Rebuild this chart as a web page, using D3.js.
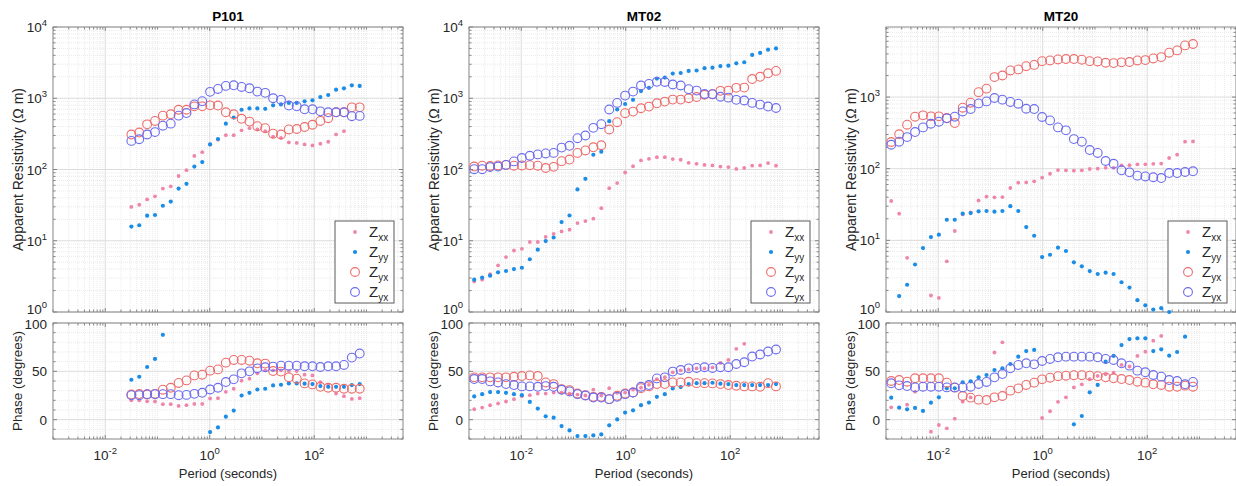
<!DOCTYPE html>
<html>
<head>
<meta charset="utf-8">
<script src="https://cdnjs.cloudflare.com/ajax/libs/d3/7.8.5/d3.min.js"></script>
<style>
  body { margin: 0; background: #fff; }
  svg { display: block; font-family: "Liberation Sans", Arial, sans-serif; }
</style>
</head>
<body>
<div id="chart"></div>
<script>
// Periods (seconds) shared by MT02 and MT20
const periodsMT = [0.001259, 0.001786, 0.002535, 0.003597, 0.005105, 0.007244, 0.01028, 0.01459, 0.0207,
  0.02938, 0.04169, 0.05916, 0.08395, 0.1191, 0.169, 0.2399, 0.3404, 0.4831, 0.6855, 0.9727,
  1.38, 1.959, 2.78, 3.945, 5.598, 7.943, 11.27, 16.0, 22.7, 32.21, 45.71, 64.86, 92.04,
  130.6, 185.4, 263.0, 373.3, 529.7, 751.6];

// Periods (seconds) for P101
const periodsP101 = [0.03162, 0.04474, 0.0633, 0.08955, 0.1267, 0.1793, 0.2536, 0.3588, 0.5077, 0.7183,
  1.016, 1.438, 2.034, 2.878, 4.072, 5.761, 8.152, 11.53, 16.32, 23.09, 32.66, 46.21, 65.38, 92.5,
  130.9, 185.2, 261.9, 370.6, 524.4, 741.9];

// P101 apparent resistivity (ohm m)
const p101RhoXX = [29.8, 32, 38, 42, 54, 58, 81, 98, 155, 175, 225, 262, 303, 303, 355, 380, 365, 345, 290, 277,
  240, 236, 225, 218, 230, 245, 311, 345, null, null];
const p101RhoYY = [15.8, 16.5, 22.5, 23, 31, 35.5, 54, 63, 110, 127, 225, 268, 440, 535, 690, 720, 720, 710, 795, 820,
  860, 860, 905, 935, 1040, 1110, 1320, 1380, 1520, 1490];
const p101RhoYX = [310, 330, 430, 480, 570, 595, 690, 690, 770, 770, 795, 790, 635, 595, 515, 470, 405, 380, 318, 310,
  365, 370, 395, 425, 480, 525, 635, 635, 745, 745];
const p101RhoXY = [252, 266, 310, 335, 412, 440, 570, 620, 820, 910, 1230, 1350, 1490, 1520, 1440, 1380, 1240, 1190, 1000, 950,
  790, 770, 700, 700, 655, 635, 635, 635, 560, 565];
// P101 phase (degrees)
const p101PhXX = [20, 20, 19, 18.8, 16, 16, 14.2, 15, 16.3, 16.3, 21.9, 22.2, 28.8, 32, 40.3, 42.4, 47.9, 51, 51, 51,
  50.3, 50.3, 46.5, 45.8, 38.9, 36, 27, 24.3, 21.5, 22.2];
const p101PhYY = [41.3, 44.4, 54.5, 62.8, 87.8, null, null, null, null, null, -12.8, -8, 3.1, 9.4, 25, 27.8, 31.2, 32, 35.4, 36.1,
  37.5, 37.5, 37.2, 36.8, 34.7, 34, 34, 34, 35.8, 36.8];
const p101PhYX = [26, 26.5, 26, 26.7, 31, 33, 38, 40.6, 45.8, 46.5, 50.7, 52, 59, 61.8, 61.8, 61, 58.3, 58, 50.3, 49.7,
  43.8, 42.4, 37.5, 36.5, 34, 33, 33, 32, 32, 32];
const p101PhXY = [25.3, 25.3, 26.4, 26.4, 26.4, 26.4, 25.3, 25.6, 26.7, 27.8, 31.2, 33, 38.9, 41.7, 47.9, 50, 53.1, 54.2, 54.9, 55.9,
  55.9, 55.9, 55.2, 55.2, 54.5, 55.2, 55.2, 56.6, 64.2, 68.4];

// MT02 apparent resistivity
const mt02RhoXX = [2.69, 2.84, 3.4, 4.5, 5.9, 7.3, 7.7, 9.6, 9.6, 11.3, 12.5, 13.5, 14.3, 17.7, 18.9, 20.4, 28.7, 54.7, 64.4, 90.8,
  111, 134, 141, 149, 149, 140, 137, 124, 120, 116, 114, 110, 108, 102, 105, 113, 114, 123, 113];
const mt02RhoYY = [2.84, 3.03, 3.23, 3.6, 3.76, 4.0, 4.18, 5.5, 7.5, 9.9, 11.1, 18.3, 22.6, 52.5, 74, 161, 178, 476, 695, 830,
  950, 1260, 1400, 1890, 1950, 2220, 2260, 2420, 2450, 2640, 2690, 2830, 2870, 3090, 3200, 4050, 4330, 4800, 5000];
const mt02RhoYX = [110, 113, 112, 114, 116, 113, 114, 115, 113, 105, 109, 131, 138, 171, 185, 205, 219, 364, 461, 617,
  650, 724, 764, 850, 898, 957, 957, 1000, 1040, 1120, 1140, 1270, 1280, 1400, 1410, 1860, 2000, 2240, 2420];
const mt02RhoXY = [101, 101, 108, 110, 116, 130, 145, 156, 163, 168, 171, 203, 215, 275, 300, 384, 432, 695, 860, 1090,
  1240, 1510, 1590, 1700, 1690, 1560, 1510, 1340, 1280, 1150, 1140, 1050, 1020, 950, 930, 860, 815, 765, 730];
// MT02 phase
const mt02PhXX = [10.8, 12.5, 14.9, 16.7, 18.8, 21.2, 24.3, 25.3, 27, 27, 28, 28, 27, 26, 25, 31, 25, 32.6, 27.8, 28,
  31, 33, 36, 42, 44, 49, 51, 52, 53, 53, 54, 58.7, 61.8, 73.3, 78.5, null, null, null, null];
const mt02PhYY = [24, 26.4, 28.5, 28.5, 27.8, 26.4, 25.3, 18.4, 11.5, 3.5, 2.1, -6.6, -11.1, -17, -17, -16.3, -15.3, -5.9, 0.3, 7.3,
  9.7, 15, 17.7, 23.6, 26.4, 32.3, 33.7, 36.8, 37.8, 37.8, 38.2, 37.2, 36.8, 35.8, 35.8, 35.8, 35.8, 35.8, 36.8];
const mt02PhYX = [43.8, 43.8, 43.8, 43.8, 43.8, 44.4, 45.1, 45.8, 45.1, 38.5, 36.8, 31.6, 30.6, 27, 25.3, 23.6, 23.6, 21.2, 24.7, 27,
  28.1, 32.6, 34.4, 36.8, 36.8, 38.5, 38.5, 39.2, 37.8, 37.8, 37.5, 36.8, 35.8, 35.1, 34.4, 34.4, 34, 37.8, 34.4];
const mt02PhXY = [42, 42, 39.6, 38.5, 36.8, 35.8, 34.4, 34.4, 34, 34.7, 34, 30.9, 29.2, 26.4, 25, 22.9, 22.9, 21.2, 23.6, 26.4,
  28.1, 34, 35.8, 42.7, 43.8, 49.7, 51.4, 53.1, 53.5, 54.2, 53.5, 54.2, 54.2, 57.6, 59.4, 65.3, 67.4, 70.5, 72.6];

// MT20 apparent resistivity
const mt20RhoXX = [35.4, 23.6, 5.7, null, null, 1.7, 1.57, 5.1, 13.5, 23, 24.6, 36, 40.7, 39.8, 40.2, 53.8, 63.8, 64.4, 66.6, 74.9,
  85, 95.7, 95, 94, 95, 99, 100, 103, 103, 111, 112, 115, 115, 117, 118, 141, 157, 238, 240];
const mt20RhoYY = [null, 1.67, 2.4, 4.6, 7.8, 11.1, 12, 19.4, 19.4, 23.6, 24, 25.4, 25.7, 25.1, 25.7, 30, 25.7, 15.3, 11.6, 5.85,
  6.3, 7.9, 7.1, 4.93, 4.34, 3.73, 3.39, 3.54, 3.39, 2.6, 2.19, 1.46, 1.24, 1.08, 1.13, 1.0, null, null, null];
const mt20RhoYX = [236, 302, 411, 532, 555, 538, 538, 509, 434, 710, 834, 1170, 1310, 1900, 2000, 2350, 2430, 2700, 2810, 3170,
  3240, 3350, 3390, 3390, 3320, 3170, 3140, 3010, 2980, 3050, 3080, 3240, 3280, 3460, 3610, 4160, 4480, 5260, 5500];
const mt20RhoXY = [216, 238, 276, 325, 377, 424, 453, 504, 532, 630, 680, 815, 870, 970, 920, 855, 808, 687, 680, 527,
  472, 377, 343, 259, 238, 182, 166, 128, 117, 95, 89, 80, 78, 76, 74, 87, 87, 90, 92];
// MT20 phase
const mt20PhXX = [12.8, null, 15.5, 29, null, -12.4, -5.5, -9, 1, 18.6, 23, null, null, 69.5, 80, null, null, null, null, 1.7,
  8.7, 18.5, 23.1, 33.4, 36.6, 42, 45.2, 47, 48.6, 56.6, 55, 65.9, 70.3, 81.7, 86.6, null, null, null, null];
const mt20PhYY = [22.8, 12.4, 10.7, 12.1, 9, 17.6, 23.1, 32.4, 32.4, 38.6, 39.7, 43.8, 46.2, 51.4, 53.1, 57.6, 65.2, 71, 72.1, null,
  null, null, null, -4.8, 3.8, 28.3, 35.9, 60, 65.9, 77.2, 83.4, 84.1, 84.1, 71, 72.8, 66.2, 70, 85.9, null];
const mt20PhYX = [40, 41, 39.3, 42.8, 42.8, 42.8, 42.8, 38.3, 33.1, 24.5, 22.8, 20.7, 20.3, 23.1, 24.5, 30, 32.4, 35.9, 38.3, 41.7,
  43.4, 45, 45.5, 46, 46, 45.5, 45, 43.8, 42.8, 42, 41, 39.3, 38.3, 36.6, 35.9, 34.1, 34.1, 35.2, 34.1];
const mt20PhXY = [37.6, 35.5, 34.8, 33.4, 34.1, 34.1, 34.1, 33.4, 33.4, 33.4, 34.1, 36.9, 39, 43.8, 47.2, 53.1, 56.6, 58.3, 57.2, 60.7,
  62.8, 64.5, 65.2, 65.2, 65.2, 65.2, 64.5, 62.8, 61.7, 58.3, 55.9, 50.7, 49, 46.2, 44.5, 41, 40, 36.6, 39];

// Legend labels (the source labels both circle series "yx")
const legendSubs = ["xx", "yy", "yx", "yx"];
const xTickExps = [-2, 0, 2];
const phaseTicks = [0, 50, 100];

const stations = [
  { name: "P101", periods: periodsP101, rhoMax: 1e4, rhoExps: [0, 1, 2, 3, 4],
    rho: [p101RhoXX, p101RhoYY, p101RhoYX, p101RhoXY], phase: [p101PhXX, p101PhYY, p101PhYX, p101PhXY] },
  { name: "MT02", periods: periodsMT, rhoMax: 1e4, rhoExps: [0, 1, 2, 3, 4],
    rho: [mt02RhoXX, mt02RhoYY, mt02RhoYX, mt02RhoXY], phase: [mt02PhXX, mt02PhYY, mt02PhYX, mt02PhXY] },
  { name: "MT20", periods: periodsMT, rhoMax: 9500, rhoExps: [0, 1, 2, 3],
    rho: [mt20RhoXX, mt20RhoYY, mt20RhoYX, mt20RhoXY], phase: [mt20PhXX, mt20PhYY, mt20PhYX, mt20PhXY] }
];

// Marker styles for the four series, in drawing order
const markerStyle = [
  { type: "dot", color: "#ef85aa", r: 1.9 },
  { type: "dot", color: "#1b8de6", r: 2.1 },
  { type: "circle", color: "#ee6c6c", r: 4.4 },
  { type: "circle", color: "#6c6cee", r: 4.4 }
];

const W = 1236, H = 486;
const panelLeft = [53, 469, 886], plotW = 350;
const rhoTop = 27, rhoBottom = 312, phTop = 323, phBottom = 439;
const textColor = "#262626", boxColor = "#8a8a8a";

const svg = d3.select("#chart").append("svg").attr("width", W).attr("height", H);

// "10" with a superscript exponent
function powLabel(g, x, y, exp, anchor) {
  const t = g.append("text").attr("x", x).attr("y", y).attr("text-anchor", anchor)
    .attr("font-size", 13.5).attr("fill", textColor);
  t.append("tspan").text("10");
  t.append("tspan").attr("dy", -6).attr("font-size", 9.5).text(exp);
}

function drawMarker(g, cx, cy, st) {
  if (st.type === "dot") {
    g.append("circle").attr("cx", cx).attr("cy", cy).attr("r", st.r).attr("fill", st.color);
  } else {
    g.append("circle").attr("cx", cx).attr("cy", cy).attr("r", st.r)
      .attr("fill", "none").attr("stroke", st.color).attr("stroke-width", 1.1);
  }
}

// Grid, box and tick marks for one axes
function drawFrame(g, x, y, top, bottom, majorX, minorX, majorY, minorY) {
  const left = x.range()[0], right = x.range()[1];
  const grid = g.append("g");
  minorX.forEach(v => grid.append("line").attr("x1", x(v)).attr("x2", x(v)).attr("y1", top).attr("y2", bottom)
    .attr("stroke", "#e4e4e4").attr("stroke-width", 0.8).attr("stroke-dasharray", "1,1"));
  minorY.forEach(v => grid.append("line").attr("x1", left).attr("x2", right).attr("y1", y(v)).attr("y2", y(v))
    .attr("stroke", "#e4e4e4").attr("stroke-width", 0.8).attr("stroke-dasharray", "1,1"));
  majorX.forEach(v => grid.append("line").attr("x1", x(v)).attr("x2", x(v)).attr("y1", top).attr("y2", bottom)
    .attr("stroke", "#dcdcdc").attr("stroke-width", 1));
  majorY.forEach(v => grid.append("line").attr("x1", left).attr("x2", right).attr("y1", y(v)).attr("y2", y(v))
    .attr("stroke", "#dcdcdc").attr("stroke-width", 1));

  const ticks = g.append("g").attr("stroke", "#6a6a6a").attr("stroke-width", 0.8);
  minorX.forEach(v => {
    ticks.append("line").attr("x1", x(v)).attr("x2", x(v)).attr("y1", bottom).attr("y2", bottom - 2.5);
    ticks.append("line").attr("x1", x(v)).attr("x2", x(v)).attr("y1", top).attr("y2", top + 2.5);
  });
  majorX.forEach(v => {
    ticks.append("line").attr("x1", x(v)).attr("x2", x(v)).attr("y1", bottom).attr("y2", bottom - 4);
    ticks.append("line").attr("x1", x(v)).attr("x2", x(v)).attr("y1", top).attr("y2", top + 4);
  });
  minorY.forEach(v => {
    ticks.append("line").attr("x1", left).attr("x2", left + 2.5).attr("y1", y(v)).attr("y2", y(v));
    ticks.append("line").attr("x1", right).attr("x2", right - 2.5).attr("y1", y(v)).attr("y2", y(v));
  });
  majorY.forEach(v => {
    ticks.append("line").attr("x1", left).attr("x2", left + 4).attr("y1", y(v)).attr("y2", y(v));
    ticks.append("line").attr("x1", right).attr("x2", right - 4).attr("y1", y(v)).attr("y2", y(v));
  });

  g.append("rect").attr("x", left).attr("y", top).attr("width", right - left).attr("height", bottom - top)
    .attr("fill", "none").attr("stroke", boxColor).attr("stroke-width", 1);
}

stations.forEach((st, i) => {
  const x0 = panelLeft[i];
  const g = svg.append("g");
  const x = d3.scaleLog().domain([1e-3, 5e3]).range([x0, x0 + plotW]);
  const yR = d3.scaleLog().domain([1, st.rhoMax]).range([rhoBottom, rhoTop]);
  const yP = d3.scaleLinear().domain([-20, 100]).range([phBottom, phTop]);

  const xMajor = xTickExps.map(e => Math.pow(10, e));
  const xMinor = x.ticks().filter(v => !xMajor.some(m => Math.abs(m / v - 1) < 1e-6));
  const rMajor = st.rhoExps.map(e => Math.pow(10, e));
  const rMinor = yR.ticks().filter(v => !rMajor.some(m => Math.abs(m / v - 1) < 1e-6));
  const pMinor = d3.range(-20, 101, 10).filter(v => !phaseTicks.includes(v));

  drawFrame(g, x, yR, rhoTop, rhoBottom, xMajor, xMinor, rMajor.filter(v => v <= st.rhoMax), rMinor);
  drawFrame(g, x, yP, phTop, phBottom, xMajor, xMinor, phaseTicks, pMinor);

  // Data markers
  const marks = g.append("g");
  markerStyle.forEach((ms, s) => {
    st.periods.forEach((T, k) => {
      const r = st.rho[s][k];
      if (r != null && r >= 1 && r <= st.rhoMax) drawMarker(marks, x(T), yR(r), ms);
      const p = st.phase[s][k];
      if (p != null && p >= -20 && p <= 100) drawMarker(marks, x(T), yP(p), ms);
    });
  });

  // Tick labels (the bottom 10^0 sits a little higher, just above the phase axes)
  st.rhoExps.forEach(e => powLabel(g, x0 - 6, yR(Math.pow(10, e)) + (e === 0 ? 2 : 5), e, "end"));
  phaseTicks.forEach(v => g.append("text").attr("x", x0 - 6).attr("y", yP(v) + (v === 100 ? 6 : 5))
    .attr("text-anchor", "end").attr("font-size", 13.5).attr("fill", textColor).text(v));
  xTickExps.forEach(e => powLabel(g, x(Math.pow(10, e)), 460, e, "middle"));

  // Titles and axis labels
  g.append("text").attr("x", x0 + plotW / 2).attr("y", 21).attr("text-anchor", "middle")
    .attr("font-size", 13.5).attr("font-weight", "bold").attr("fill", "#000").text(st.name);
  g.append("text").attr("transform", `translate(${x0 - 30},${(rhoTop + rhoBottom) / 2}) rotate(-90)`)
    .attr("text-anchor", "middle").attr("font-size", 14).attr("fill", textColor)
    .text("Apparent Resistivity (\u03A9 m)");
  g.append("text").attr("transform", `translate(${x0 - 31},${(phTop + phBottom) / 2}) rotate(-90)`)
    .attr("text-anchor", "middle").attr("font-size", 13.5).attr("fill", textColor)
    .text("Phase (degrees)");
  g.append("text").attr("x", x0 + plotW / 2).attr("y", 478).attr("text-anchor", "middle")
    .attr("font-size", 13).attr("fill", textColor).text("Period (seconds)");

  // Legend
  const lw = 59, lh = 82;
  const lx = x0 + plotW - 9 - lw, ly = 221;
  const leg = g.append("g").attr("transform", `translate(${lx},${ly})`);
  leg.append("rect").attr("width", lw).attr("height", lh).attr("fill", "#fff")
    .attr("stroke", "#5a5a5a").attr("stroke-width", 1);
  markerStyle.forEach((ms, s) => {
    const cy = 11 + s * 20;
    drawMarker(leg, 20, cy, ms);
    const t = leg.append("text").attr("x", 34).attr("y", cy + 5).attr("font-size", 15).attr("fill", textColor);
    t.append("tspan").text("Z");
    t.append("tspan").attr("dy", 4).attr("font-size", 10).text(legendSubs[s]);
  });
});
</script>
</body>
</html>
